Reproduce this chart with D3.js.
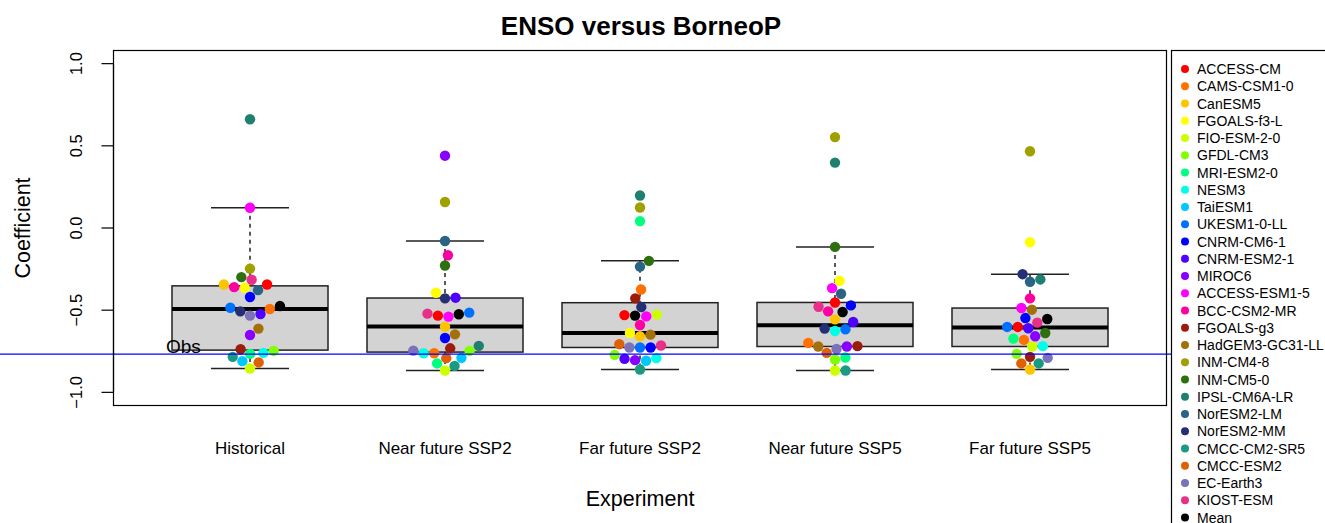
<!DOCTYPE html>
<html>
<head>
<meta charset="utf-8">
<script src="https://cdn.jsdelivr.net/npm/d3@7"></script>
<style>
  body { margin: 0; background: #fff; }
  text { font-family: "Liberation Sans", Arial, sans-serif; }
</style>
</head>
<body>
<div id="chart"></div>
<script>
// models, in legend order
var models = ["ACCESS-CM", "CAMS-CSM1-0", "CanESM5", "FGOALS-f3-L", "FIO-ESM-2-0", "GFDL-CM3",
    "MRI-ESM2-0", "NESM3", "TaiESM1", "UKESM1-0-LL", "CNRM-CM6-1", "CNRM-ESM2-1", "MIROC6",
    "ACCESS-ESM1-5", "BCC-CSM2-MR", "FGOALS-g3", "HadGEM3-GC31-LL", "INM-CM4-8", "INM-CM5-0",
    "IPSL-CM6A-LR", "NorESM2-LM", "NorESM2-MM", "CMCC-CM2-SR5", "CMCC-ESM2", "EC-Earth3", "KIOST-ESM"];
var colors = ["#FF0000", "#FF7000", "#FFC400", "#FFFF00", "#CCFF00", "#7FFF00",
    "#00FF80", "#00FFE6", "#00C8FF", "#0070FF", "#0000FF", "#5000FF", "#8A00FF",
    "#FF00FF", "#FF00A0", "#9B1C0C", "#A3700C", "#A0A000", "#2E7010",
    "#1F8070", "#2A6484", "#252F74", "#1A9A80", "#E06008", "#7B72BB", "#E8308A"];
var meanColor = "#000000";

var experiments = ["Historical", "Near future SSP2", "Far future SSP2", "Near future SSP5", "Far future SSP5"];

// coefficients per model (null = no run)
var historical = [-0.344, -0.493, -0.344, -0.364, -0.855, -0.748, -0.766, -0.760, -0.810, -0.485,
    -0.420, -0.524, -0.651, 0.123, -0.360, -0.738, -0.612, -0.247, -0.299, 0.662,
    -0.378, -0.507, -0.784, -0.818, -0.533, -0.315];
var nearSSP2 = [-0.533, -0.762, -0.600, -0.394, -0.867, -0.748, -0.824, -0.762, -0.790, -0.515,
    -0.669, -0.424, 0.440, -0.539, -0.166, -0.732, -0.647, 0.158, -0.228, -0.717,
    -0.079, -0.428, -0.839, -0.792, -0.746, -0.521];
var farSSP2 = [-0.530, -0.374, -0.659, -0.639, -0.527, -0.772, 0.042, -0.792, -0.808, -0.727,
    -0.727, -0.796, -0.804, -0.538, -0.590, -0.428, -0.649, 0.125, -0.200, 0.198,
    -0.235, -0.481, -0.861, -0.707, -0.727, -0.715];
var nearSSP5 = [-0.453, -0.699, -0.556, -0.321, -0.867, -0.800, -0.788, -0.627, null, -0.616,
    -0.471, -0.572, -0.721, -0.366, -0.507, -0.719, -0.721, 0.553, -0.115, 0.398,
    -0.400, -0.612, -0.867, -0.760, -0.736, -0.479];
var farSSP5 = [-0.602, -0.681, -0.861, -0.087, -0.721, -0.766, -0.673, -0.719, null, -0.602,
    -0.548, -0.610, -0.659, -0.487, -0.428, -0.784, -0.497, 0.467, -0.639, -0.313,
    -0.327, -0.281, -0.824, -0.824, -0.790, -0.576];
var means = [-0.475, -0.525, -0.533, -0.511, -0.554];
var obs = -0.768;

var yTicks = [-1, -0.5, 0, 0.5, 1];
var yTickLabels = ["\u22121.0", "\u22120.5", "0.0", "0.5", "1.0"];

var series = [historical, nearSSP2, farSSP2, nearSSP5, farSSP5];

var W = 1325, H = 523;
var plot = { left: 113.5, right: 1166.5, top: 50.5, bottom: 405.5 };

var svg = d3.select("#chart").append("svg")
    .attr("width", W)
    .attr("height", H);

var x = d3.scaleLinear().domain([0.3, 5.7]).range([plot.left, plot.right]);
var y = d3.scaleLinear().domain([-1.08, 1.08]).range([plot.bottom, plot.top]);

// R style fivenum (Tukey hinges)
function fivenum(v) {
    var s = v.slice().sort(d3.ascending), n = s.length;
    var n4 = Math.floor((n + 3) / 2) / 2;
    var d = [1, n4, (n + 1) / 2, n + 1 - n4, n];
    return d.map(function (k) { return 0.5 * (s[Math.floor(k) - 1] + s[Math.ceil(k) - 1]); });
}

function boxStats(v) {
    var f = fivenum(v);
    var iqr = f[3] - f[1];
    var hi = d3.max(v.filter(function (d) { return d <= f[3] + 1.5 * iqr; }));
    var lo = d3.min(v.filter(function (d) { return d >= f[1] - 1.5 * iqr; }));
    return { lo: lo, q1: f[1], med: f[2], q3: f[3], hi: hi };
}

// simple swarm layout: ascending values, nearest free x offset
function swarm(pts, dist) {
    var order = pts.slice().sort(function (a, b) { return a.v - b.v; });
    var placed = [];
    order.forEach(function (p) {
        var cands = [0];
        placed.forEach(function (q) {
            var dy = Math.abs(p.py - q.py);
            if (dy < dist) {
                var dx = Math.sqrt(dist * dist - dy * dy);
                cands.push(q.dx + dx, q.dx - dx);
            }
        });
        var ok = cands.filter(function (c) {
            return placed.every(function (q) {
                var a = c - q.dx, b = p.py - q.py;
                return a * a + b * b >= dist * dist - 1e-6;
            });
        });
        ok.sort(function (a, b) { return Math.abs(a) - Math.abs(b); });
        p.dx = ok[0];
        placed.push(p);
    });
    return pts;
}

var groups = experiments.map(function (name, i) {
    var pts = [];
    series[i].forEach(function (v, j) {
        if (v !== null) pts.push({ v: v, color: colors[j], py: y(v) });
    });
    pts.push({ v: means[i], color: meanColor, py: y(means[i]) });
    return {
        name: name, pos: i + 1,
        stats: boxStats(pts.map(function (p) { return p.v; })),
        points: swarm(pts, 10.6)
    };
});

// boxes
var g = svg.selectAll(".box").data(groups).enter().append("g").attr("class", "box");

g.append("line")
    .attr("x1", function (d) { return x(d.pos); })
    .attr("x2", function (d) { return x(d.pos); })
    .attr("y1", function (d) { return y(d.stats.hi); })
    .attr("y2", function (d) { return y(d.stats.q3); })
    .attr("stroke", "#222").attr("stroke-width", 1.5).attr("stroke-dasharray", "4,4");
g.append("line")
    .attr("x1", function (d) { return x(d.pos); })
    .attr("x2", function (d) { return x(d.pos); })
    .attr("y1", function (d) { return y(d.stats.q1); })
    .attr("y2", function (d) { return y(d.stats.lo); })
    .attr("stroke", "#222").attr("stroke-width", 1.5).attr("stroke-dasharray", "4,4");
["hi", "lo"].forEach(function (k) {
    g.append("line")
        .attr("x1", function (d) { return x(d.pos - 0.2); })
        .attr("x2", function (d) { return x(d.pos + 0.2); })
        .attr("y1", function (d) { return y(d.stats[k]); })
        .attr("y2", function (d) { return y(d.stats[k]); })
        .attr("stroke", "#222").attr("stroke-width", 1.5);
});
g.append("rect")
    .attr("x", function (d) { return x(d.pos - 0.4); })
    .attr("width", function (d) { return x(d.pos + 0.4) - x(d.pos - 0.4); })
    .attr("y", function (d) { return y(d.stats.q3); })
    .attr("height", function (d) { return y(d.stats.q1) - y(d.stats.q3); })
    .attr("fill", "#D3D3D3").attr("stroke", "#222").attr("stroke-width", 1.5);
g.append("line")
    .attr("x1", function (d) { return x(d.pos - 0.4); })
    .attr("x2", function (d) { return x(d.pos + 0.4); })
    .attr("y1", function (d) { return y(d.stats.med); })
    .attr("y2", function (d) { return y(d.stats.med); })
    .attr("stroke", "#000").attr("stroke-width", 4);

// obs line
svg.append("line")
    .attr("x1", 0).attr("x2", W)
    .attr("y1", y(obs)).attr("y2", y(obs))
    .attr("stroke", "#0000FF").attr("stroke-width", 1.2);
svg.append("text")
    .attr("x", 166).attr("y", y(obs) - 1.5)
    .style("font-size", "19px")
    .text("Obs");

// points
g.selectAll("circle")
    .data(function (d) { return d.points.map(function (p) { p.pos = d.pos; return p; }); })
    .enter().append("circle")
    .attr("cx", function (d) { return x(d.pos) + d.dx; })
    .attr("cy", function (d) { return d.py; })
    .attr("r", 5.2)
    .attr("fill", function (d) { return d.color; });

// frame
svg.append("rect")
    .attr("x", plot.left).attr("y", plot.top)
    .attr("width", plot.right - plot.left).attr("height", plot.bottom - plot.top)
    .attr("fill", "none").attr("stroke", "#000").attr("stroke-width", 1.2);

// y axis
var yAxis = svg.append("g");
yAxis.append("line")
    .attr("x1", plot.left).attr("x2", plot.left)
    .attr("y1", y(-1)).attr("y2", y(1))
    .attr("stroke", "#000").attr("stroke-width", 1.2);
yAxis.selectAll(".tick").data(yTicks).enter().append("line")
    .attr("x1", plot.left - 12).attr("x2", plot.left)
    .attr("y1", function (d) { return y(d); }).attr("y2", function (d) { return y(d); })
    .attr("stroke", "#000").attr("stroke-width", 1.2);
yAxis.selectAll(".lab").data(yTicks).enter().append("text")
    .attr("transform", function (d) { return "translate(82," + y(d) + ") rotate(-90)"; })
    .style("text-anchor", "middle")
    .style("font-size", "16.5px")
    .text(function (d, i) { return yTickLabels[i]; });

// x labels
svg.selectAll(".xlab").data(experiments).enter().append("text")
    .attr("x", function (d, i) { return x(i + 1); })
    .attr("y", 454)
    .style("text-anchor", "middle")
    .style("font-size", "17px")
    .text(function (d) { return d; });

// titles
svg.append("text")
    .attr("x", 641).attr("y", 35)
    .style("text-anchor", "middle")
    .style("font-size", "26px")
    .style("font-weight", "bold")
    .text("ENSO versus BorneoP");
svg.append("text")
    .attr("x", 640).attr("y", 506)
    .style("text-anchor", "middle")
    .style("font-size", "21.5px")
    .text("Experiment");
svg.append("text")
    .attr("transform", "translate(30," + y(0) + ") rotate(-90)")
    .style("text-anchor", "middle")
    .style("font-size", "21.5px")
    .text("Coefficient");

// legend
var legend = svg.append("g");
legend.append("rect")
    .attr("x", 1171.5).attr("y", 50.5)
    .attr("width", 200).attr("height", 500)
    .attr("fill", "#fff").attr("stroke", "#000").attr("stroke-width", 1.2);
var entries = models.map(function (m, i) { return { name: m, color: colors[i] }; })
    .concat([{ name: "Mean", color: meanColor }]);
var item = legend.selectAll(".item").data(entries).enter().append("g")
    .attr("transform", function (d, i) { return "translate(1185," + (69 + i * 17.25) + ")"; });
item.append("circle").attr("r", 4).attr("fill", function (d) { return d.color; });
item.append("text")
    .attr("x", 12).attr("y", 5)
    .style("font-size", "14px")
    .text(function (d) { return d.name; });
</script>
</body>
</html>
